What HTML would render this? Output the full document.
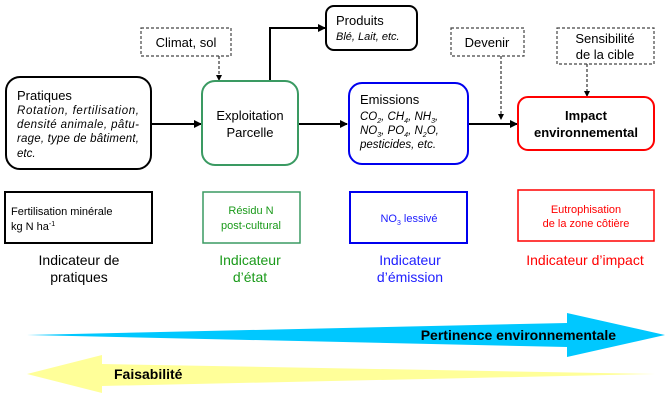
<!DOCTYPE html>
<html><head><meta charset="utf-8"><style>
html,body{margin:0;padding:0;background:#fff;}
svg{display:block;font-family:"Liberation Sans",sans-serif;}
.n{font-family:"Liberation Sans Narrow","Liberation Sans",sans-serif;}
</style></head><body>
<svg width="668" height="401" viewBox="0 0 668 401" xmlns="http://www.w3.org/2000/svg">
<defs>
<marker id="ah" markerWidth="8" markerHeight="8" refX="7" refY="4" orient="auto" markerUnits="userSpaceOnUse"><path d="M0,0 L8,4 L0,8 Z" fill="#000"/></marker>
<marker id="ahs" markerWidth="6" markerHeight="6" refX="5" refY="3" orient="auto" markerUnits="userSpaceOnUse"><path d="M0,0 L6,3 L0,6 Z" fill="#000"/></marker>
</defs>
<line x1="151" y1="124" x2="201" y2="124" stroke="#000" stroke-width="2" marker-end="url(#ah)"/>
<line x1="298" y1="124" x2="347" y2="124" stroke="#000" stroke-width="2" marker-end="url(#ah)"/>
<line x1="468" y1="124" x2="517" y2="124" stroke="#000" stroke-width="2" marker-end="url(#ah)"/>
<polyline points="270,81 270,28 325,28" fill="none" stroke="#000" stroke-width="2" marker-end="url(#ah)"/>
<line x1="219" y1="56" x2="219" y2="80" stroke="#333" stroke-width="1.2" stroke-dasharray="3,2" marker-end="url(#ahs)"/>
<line x1="501" y1="56" x2="501" y2="119" stroke="#333" stroke-width="1.2" stroke-dasharray="3,2" marker-end="url(#ahs)"/>
<line x1="587" y1="64" x2="587" y2="96" stroke="#333" stroke-width="1.2" stroke-dasharray="3,2" marker-end="url(#ahs)"/>

<g>
<rect x="6" y="77" width="145" height="92" rx="14" fill="#fff" stroke="#000" stroke-width="2"/>
<text x="17" y="100" font-size="13">Pratiques</text>
<text font-size="11.5" font-style="italic"><tspan x="17" y="114" textLength="122" lengthAdjust="spacing">Rotation,    fertilisation,</tspan><tspan x="17" y="128" textLength="122" lengthAdjust="spacing">densité animale, pâtu-</tspan><tspan x="17" y="142" textLength="122" lengthAdjust="spacing">rage, type de bâtiment,</tspan><tspan x="17" y="157">etc.</tspan></text>
</g>
<g>
<rect x="202" y="81" width="96" height="84" rx="13" fill="#fff" stroke="#3a9a62" stroke-width="2"/>
<text x="250" y="120" font-size="13" text-anchor="middle">Exploitation</text>
<text x="250" y="137" font-size="13" text-anchor="middle">Parcelle</text>
</g>
<g>
<rect x="141" y="28" width="90" height="28" fill="#fff" stroke="#444" stroke-width="1.2" stroke-dasharray="3,2"/>
<text x="186" y="47" font-size="13" text-anchor="middle">Climat, sol</text>
</g>
<g>
<rect x="326" y="6" width="91" height="44" rx="8" fill="#fff" stroke="#000" stroke-width="2"/>
<text x="336" y="25" font-size="13">Produits</text>
<text x="336" y="40" font-size="11" font-style="italic">Blé, Lait, etc.</text>
</g>
<g>
<rect x="349" y="83" width="119" height="81" rx="13" fill="#fff" stroke="#0000ee" stroke-width="2"/>
<text x="360" y="104" font-size="13">Emissions</text>
<text font-size="11.5" font-style="italic"><tspan x="360" y="120">CO<tspan font-size="7" dy="3">2</tspan><tspan dy="-3">,     CH</tspan><tspan font-size="7" dy="3">4</tspan><tspan dy="-3">,     NH</tspan><tspan font-size="7" dy="3">3</tspan><tspan dy="-3">,</tspan></tspan><tspan x="360" y="134">NO<tspan font-size="7" dy="3">3</tspan><tspan dy="-3">,    PO</tspan><tspan font-size="7" dy="3">4</tspan><tspan dy="-3">,    N</tspan><tspan font-size="7" dy="3">2</tspan><tspan dy="-3">O,</tspan></tspan><tspan x="360" y="148">pesticides, etc.</tspan></text>
</g>
<g>
<rect x="451" y="28" width="73" height="28" fill="#fff" stroke="#444" stroke-width="1.2" stroke-dasharray="3,2"/>
<text x="487" y="47" font-size="13" text-anchor="middle">Devenir</text>
</g>
<g>
<rect x="557" y="28" width="97" height="36" fill="#fff" stroke="#444" stroke-width="1.2" stroke-dasharray="3,2"/>
<text x="605" y="43" font-size="13" text-anchor="middle">Sensibilité</text>
<text x="605" y="59" font-size="13" text-anchor="middle">de la cible</text>
</g>
<g>
<rect x="518" y="97" width="136" height="53" rx="10" fill="#fff" stroke="#ff0000" stroke-width="2"/>
<text x="586" y="120" font-size="13" font-weight="bold" text-anchor="middle">Impact</text>
<text x="586" y="137" font-size="13" font-weight="bold" text-anchor="middle">environnemental</text>
</g>

<g class="n">
<rect x="5" y="192" width="147" height="51" fill="#fff" stroke="#000" stroke-width="2"/>
<text x="11" y="215" font-size="11">Fertilisation minérale</text>
<text x="11" y="230" font-size="11">kg N ha<tspan font-size="7" dy="-4">-1</tspan></text>
</g>
<g class="n">
<rect x="203" y="192" width="97" height="51" fill="#fff" stroke="#3a9a62" stroke-width="1.5"/>
<text x="251" y="214" font-size="11" fill="#1a9a1a" text-anchor="middle">Résidu N</text>
<text x="251" y="229" font-size="11" fill="#1a9a1a" text-anchor="middle">post-cultural</text>
</g>
<g class="n">
<rect x="350" y="192" width="117" height="51" fill="#fff" stroke="#0000ee" stroke-width="2"/>
<text x="409" y="222" font-size="11" fill="#2020ff" text-anchor="middle">NO<tspan font-size="7" dy="3">3</tspan><tspan dy="-3"> lessivé</tspan></text>
</g>
<g class="n">
<rect x="518" y="190" width="136" height="51" fill="#fff" stroke="#ff0000" stroke-width="1.5"/>
<text x="586" y="213" font-size="11" fill="#ff0000" text-anchor="middle">Eutrophisation</text>
<text x="586" y="227" font-size="11" fill="#ff0000" text-anchor="middle">de la zone côtière</text>
</g>

<g class="n" font-size="14" text-anchor="middle">
<text><tspan x="79" y="265">Indicateur de</tspan><tspan x="79" y="282">pratiques</tspan></text>
<text fill="#1a9a1a"><tspan x="250" y="265">Indicateur</tspan><tspan x="250" y="282">d’état</tspan></text>
<text fill="#2020ff"><tspan x="410" y="265">Indicateur</tspan><tspan x="410" y="282">d’émission</tspan></text>
<text x="585" y="265" fill="#ff0000">Indicateur d’impact</text>
</g>

<g>
<polygon points="27,335 567,323 567,313 665,335 567,357 567,347" fill="#00c8ff"/>
<text class="n" x="616" y="340" font-size="14" font-weight="bold" text-anchor="end">Pertinence environnementale</text>
</g>
<g>
<polygon points="27,374 102,355 102,364 655,374 102,386 102,393" fill="#ffff99"/>
<text class="n" x="114" y="379" font-size="14" font-weight="bold">Faisabilité</text>
</g>
</svg>
</body></html>
